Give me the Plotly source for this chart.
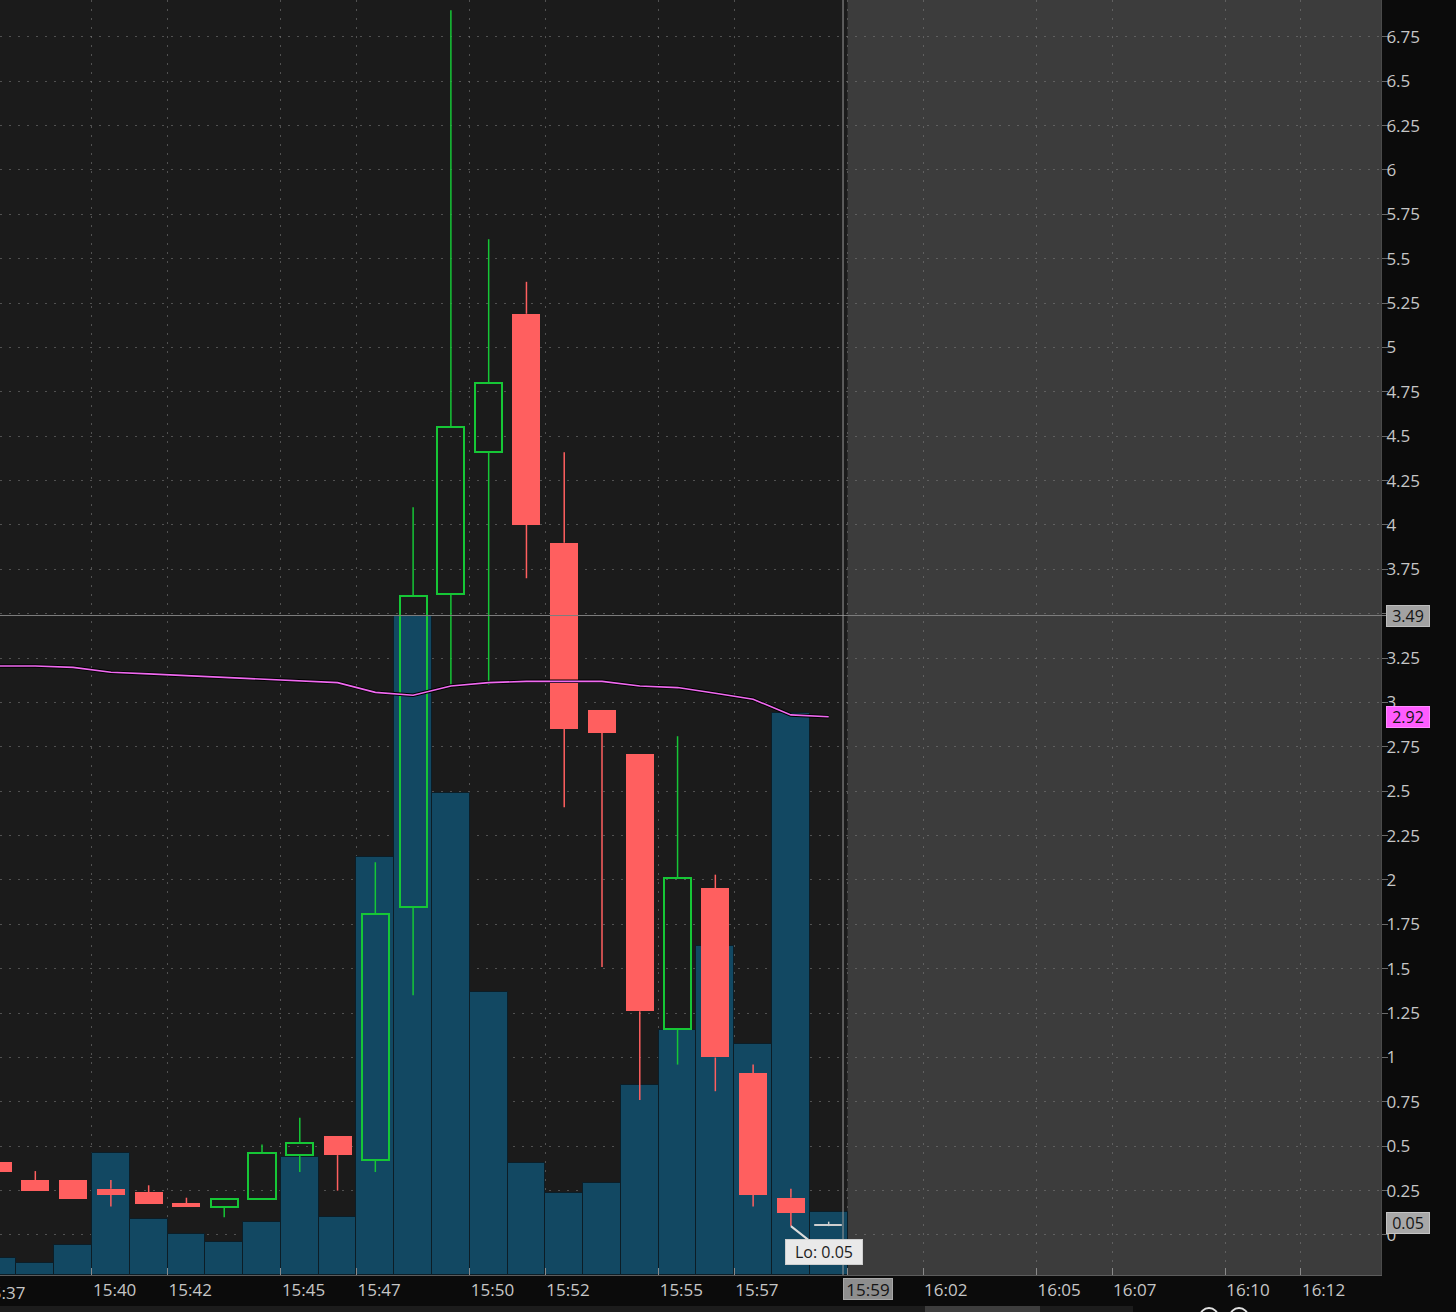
import plotly.graph_objects as go

# ---------------- data ----------------
times = ["15:37", "15:38", "15:39", "15:40", "15:41", "15:42", "15:43", "15:44",
         "15:45", "15:46", "15:47", "15:48", "15:49", "15:50", "15:51", "15:52",
         "15:53", "15:54", "15:55", "15:56", "15:57", "15:58", "15:59"]
opens = [0.41, 0.31, 0.31, 0.26, 0.24, 0.18, 0.16, 0.20, 0.45, 0.56, 0.42, 1.85,
         3.61, 4.41, 5.19, 3.90, 2.96, 2.71, 1.16, 1.955, 0.91, 0.21, 0.05]
highs = [0.41, 0.36, 0.31, 0.31, 0.28, 0.21, 0.20, 0.51, 0.66, 0.56, 2.10, 4.10,
         6.90, 5.61, 5.37, 4.41, 2.96, 2.71, 2.81, 2.03, 0.96, 0.26, 0.075]
lows = [0.355, 0.25, 0.20, 0.16, 0.175, 0.16, 0.10, 0.20, 0.355, 0.25, 0.355, 1.35,
        3.10, 3.10, 3.70, 2.41, 1.51, 0.76, 0.96, 0.81, 0.16, 0.05, 0.05]
closes = [0.355, 0.25, 0.20, 0.225, 0.175, 0.16, 0.20, 0.46, 0.52, 0.45, 1.81, 3.60,
          4.55, 4.80, 4.00, 2.85, 2.83, 1.26, 2.01, 1.00, 0.225, 0.125, 0.05]
volumes_k = [34, 24, 60, 244, 112, 82, 66, 106, 236, 116, 836, 1318,
             964, 566, 224, 164, 184, 380, 490, 658, 462, 1124, 126]
vwap = [3.206, 3.206, 3.198, 3.170, 3.161, 3.151, 3.141, 3.131, 3.121, 3.112, 3.057, 3.041,
        3.093, 3.112, 3.119, 3.119, 3.119, 3.093, 3.084, 3.052, 3.018, 2.930, 2.920]

time_ticks = ["15:40", "15:42", "15:45", "15:47", "15:50", "15:52", "15:55", "15:57",
              "16:00", "16:02", "16:05", "16:07", "16:10", "16:12"]
first_cut_label = "15:37"
price_ticks = [0, 0.25, 0.5, 0.75, 1, 1.25, 1.5, 1.75, 2, 2.25, 2.5, 2.75, 3, 3.25,
               3.5, 3.75, 4, 4.25, 4.5, 4.75, 5, 5.25, 5.5, 5.75, 6, 6.25, 6.5, 6.75]

crosshair_price = 3.49
crosshair_time_label = "15:59"
last_price = 0.05
vwap_last = 2.92
low_label = "Lo: 0.05"

# ---------------- helpers ----------------
def tnum(s):
    h, m = s.split(":")
    return (int(h) - 15) * 60 + int(m)

xc = [tnum(t) + 0.5 for t in times]
X_MIN, X_MAX = 37.565, 74.12
Y_MIN, Y_MAX = -0.2254, 6.9577
VOL_MAX = 2550
crosshair_x = tnum(crosshair_time_label) + 0.88

GREEN = "#16c636"
RED = "#ff5f5f"
DOJI = "#cfcfcf"
VOL = "#124862"
GRID = "rgba(125,125,125,0.55)"
TXT = "#c6c6c6"
FONT = "Open Sans"

fig = go.Figure()

# volume (primary hidden axis, drawn beneath)
fig.add_trace(go.Bar(x=xc, y=volumes_k, width=1.0, yaxis="y",
                     marker=dict(color=VOL, line=dict(color="#0c1d26", width=1)),
                     hoverinfo="skip"))

up = [i for i in range(len(times)) if closes[i] > opens[i]]
dn = [i for i in range(len(times)) if closes[i] < opens[i]]
fl = [i for i in range(len(times)) if closes[i] == opens[i]]

fig.add_trace(go.Bar(x=[xc[i] for i in up], base=[opens[i] for i in up],
                     y=[closes[i] - opens[i] for i in up], width=0.72, yaxis="y2",
                     marker=dict(color="rgba(0,0,0,0)", line=dict(color=GREEN, width=2)),
                     hoverinfo="skip"))
fig.add_trace(go.Bar(x=[xc[i] for i in dn], base=[closes[i] for i in dn],
                     y=[opens[i] - closes[i] for i in dn], width=0.74, yaxis="y2",
                     marker=dict(color=RED, line=dict(color=RED, width=0)),
                     hoverinfo="skip"))
fig.add_trace(go.Bar(x=[xc[i] for i in fl], base=[opens[i] for i in fl],
                     y=[0.004 for i in fl], width=0.72, yaxis="y2",
                     marker=dict(color=DOJI, line=dict(color=DOJI, width=1)),
                     hoverinfo="skip"))


def wicks(idx):
    xs, ys = [], []
    for i in idx:
        top = max(opens[i], closes[i])
        bot = min(opens[i], closes[i])
        if highs[i] > top:
            xs += [xc[i], xc[i], None]
            ys += [top, highs[i], None]
        if lows[i] < bot:
            xs += [xc[i], xc[i], None]
            ys += [bot, lows[i], None]
    return xs, ys


for idx, col in ((up, GREEN), (dn, RED), (fl, DOJI)):
    wx, wy = wicks(idx)
    fig.add_trace(go.Scatter(x=wx, y=wy, mode="lines", yaxis="y2",
                             line=dict(color=col, width=1.5), hoverinfo="skip"))

# VWAP line with dark outline
fig.add_trace(go.Scatter(x=xc, y=vwap, mode="lines", yaxis="y2",
                         line=dict(color="#000000", width=3.5), hoverinfo="skip"))
fig.add_trace(go.Scatter(x=xc, y=vwap, mode="lines", yaxis="y2",
                         line=dict(color="#f06af0", width=1.6), hoverinfo="skip"))

# ---------------- shapes ----------------
PLOT_W, PLOT_H = 1381, 1275


def px_x(p):
    return p / PLOT_W


def px_y(p):
    return (PLOT_H - p) / PLOT_H


shapes = [
    # future (empty) region
    dict(type="rect", xref="x", yref="paper", x0=tnum("16:00"), x1=X_MAX + 5, y0=0, y1=1,
         fillcolor="#3c3c3c", line=dict(width=0), layer="below"),
    # crosshair
    dict(type="line", xref="paper", yref="y2", x0=0, x1=1.004, y0=crosshair_price, y1=crosshair_price,
         line=dict(color="#7e7e7e", width=1), layer="above"),
    dict(type="line", xref="x", yref="paper", x0=crosshair_x, x1=crosshair_x, y0=0, y1=1,
         line=dict(color="#9a9a9a", width=1), layer="above"),
    # bottom strip with scrollbar
    dict(type="rect", xref="paper", yref="paper", x0=px_x(0), x1=px_x(1133), y0=px_y(1306), y1=px_y(1313),
         fillcolor="#1c1c1c", line=dict(width=0), layer="above"),
    dict(type="rect", xref="paper", yref="paper", x0=px_x(925), x1=px_x(1040), y0=px_y(1306), y1=px_y(1313),
         fillcolor="#3d3d3d", line=dict(width=0), layer="above"),
    dict(type="circle", xref="paper", yref="paper", x0=px_x(1200), x1=px_x(1218), y0=px_y(1308), y1=px_y(1326),
         line=dict(color="#e0e0e0", width=2), layer="above"),
    dict(type="circle", xref="paper", yref="paper", x0=px_x(1230), x1=px_x(1248), y0=px_y(1308), y1=px_y(1326),
         line=dict(color="#e0e0e0", width=2), layer="above"),
]

# ---------------- annotations ----------------
box_font = dict(family=FONT, size=16, color="#151515")
annotations = [
    dict(xref="paper", yref="y2", x=1, y=crosshair_price, xanchor="left", xshift=5,
         text=f"{crosshair_price:.2f}", showarrow=False, font=box_font,
         bgcolor="#a2a2a2", bordercolor="#bdbdbd", borderwidth=1, borderpad=2, width=38, height=16),
    dict(xref="paper", yref="y2", x=1, y=vwap_last, xanchor="left", xshift=5,
         text=f"{vwap_last:.2f}", showarrow=False, font=box_font,
         bgcolor="#ff5cff", bordercolor="#ff8cff", borderwidth=1, borderpad=2, width=38, height=16),
    dict(xref="paper", yref="y2", x=1, y=last_price, xanchor="left", xshift=5, yshift=3,
         text=f"{last_price:.2f}", showarrow=False, font=box_font,
         bgcolor="#a8a8a8", bordercolor="#c4c4c4", borderwidth=1, borderpad=2, width=38, height=16),
    dict(xref="x", yref="paper", x=crosshair_x, y=px_y(1278), xanchor="left", yanchor="top",
         text=crosshair_time_label, showarrow=False, font=dict(family=FONT, size=17, color="#151515"),
         bgcolor="#8e8e8e", bordercolor="#a8a8a8", borderwidth=1, borderpad=2, width=44, height=16),
    dict(xref="x", yref="y2", x=xc[times.index("15:58")], y=lows[times.index("15:58")],
         ax=33, ay=26, text=low_label, showarrow=True, arrowhead=0, arrowwidth=2,
         arrowcolor="#dcdcdc", standoff=0,
         font=dict(family=FONT, size=16, color="#1c1c1c"),
         bgcolor="#e9e9e9", bordercolor="#cfcfcf", borderwidth=1, borderpad=3, width=70, height=18),
    dict(xref="paper", yref="paper", x=(tnum(first_cut_label) - X_MIN) / (X_MAX - X_MIN), xshift=1,
         y=px_y(1279), xanchor="left", yanchor="top", text=first_cut_label, showarrow=False,
         font=dict(family=FONT, size=17, color=TXT)),
]

fig.update_layout(
    width=1456, height=1312, autosize=False,
    margin=dict(l=0, r=75, t=0, b=37, pad=0),
    paper_bgcolor="#0b0b0b", plot_bgcolor="#1b1b1b",
    barmode="overlay", bargap=0, showlegend=False,
    font=dict(family=FONT, size=17, color=TXT),
    xaxis=dict(range=[X_MIN, X_MAX], tickmode="array",
               tickvals=[tnum(t) for t in time_ticks], ticktext=time_ticks,
               ticks="inside", ticklen=7, tickcolor="#8a8a8a",
               ticklabelposition="outside right",
               showgrid=True, gridcolor=GRID, griddash="1.5px,7.5px", gridwidth=1,
               showline=True, linecolor="#5c5c5c", linewidth=1, zeroline=False,
               tickfont=dict(family=FONT, size=17, color=TXT), fixedrange=True),
    yaxis=dict(range=[0, VOL_MAX], visible=False, showgrid=False, zeroline=False, fixedrange=True),
    yaxis2=dict(overlaying="y", side="right", range=[Y_MIN, Y_MAX], tickmode="array",
                tickvals=price_ticks, ticktext=[f"{v:g}" for v in price_ticks],
                ticks="outside", ticklen=6, tickcolor="#6a6a6a", ticklabelstandoff=-5,
                showgrid=True, gridcolor=GRID, griddash="1.5px,7.5px", gridwidth=1,
                showline=True, linecolor="#4a4a4a", linewidth=1, zeroline=False,
                tickfont=dict(family=FONT, size=17, color=TXT), fixedrange=True),
    shapes=shapes, annotations=annotations,
)

fig.write_html("out.html", config={"displayModeBar": False},
               post_script="document.body.style.margin='0';document.body.style.background='#0b0b0b';document.body.style.overflow='hidden';")
